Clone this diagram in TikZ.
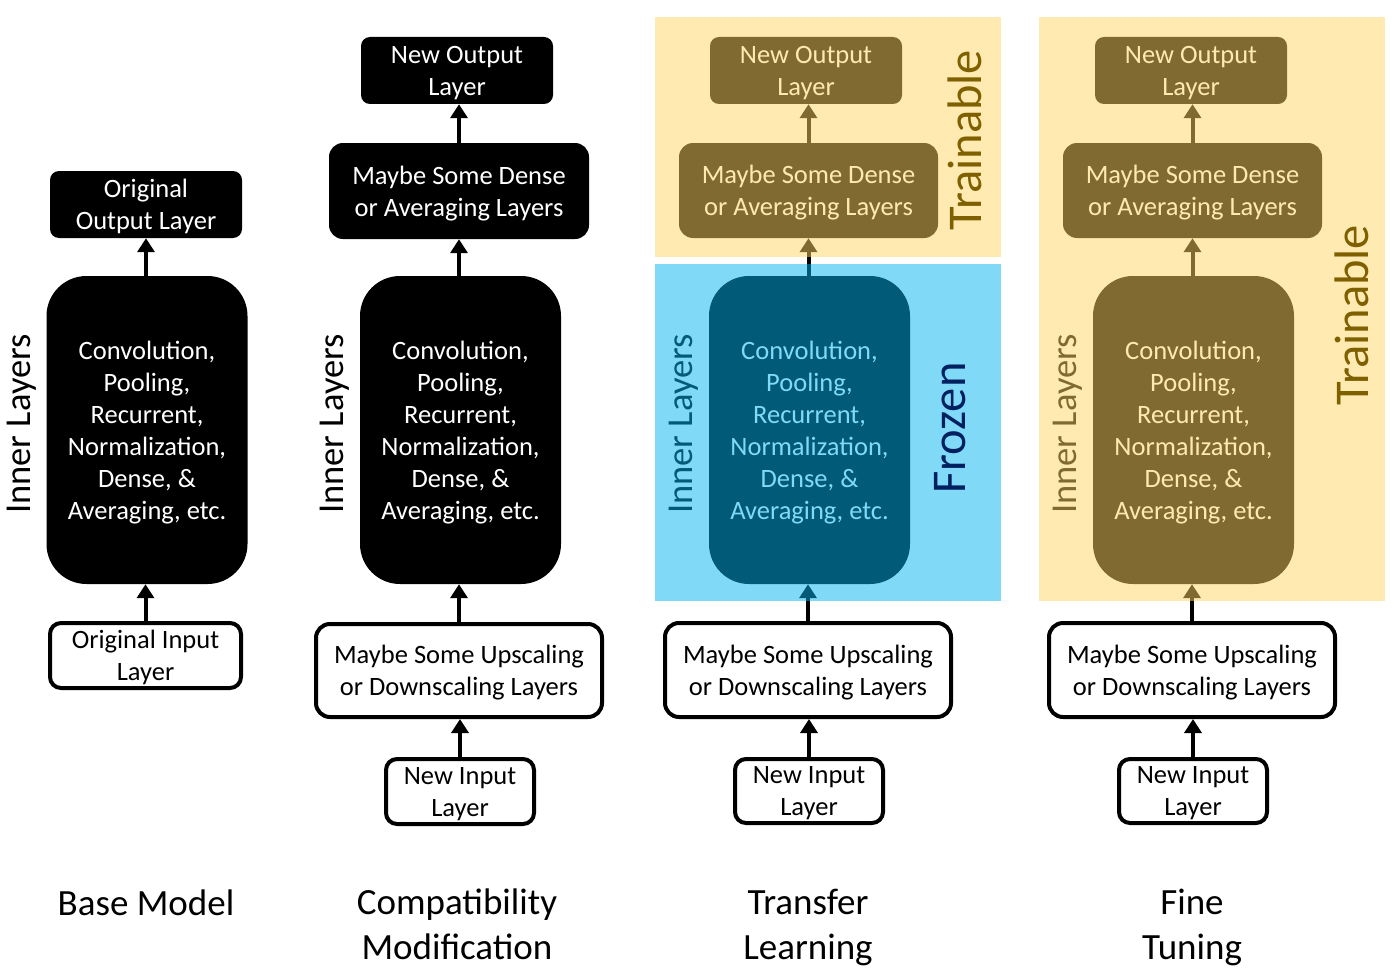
\documentclass[tikz,border=0pt]{standalone}
\usepackage{fontspec}
\setmainfont{Carlito}
\usetikzlibrary{arrows.meta}
\definecolor{ovY}{RGB}{255,213,99}
\definecolor{ovB}{RGB}{0,180,240}
\definecolor{frz}{RGB}{0,32,96}
\definecolor{trn}{RGB}{127,96,0}
\tikzset{
  lbl/.style={font=\fontsize{26.5}{32}\selectfont, align=center, inner sep=0pt, text depth=0pt},
  blk/.style={lbl, fill=black, text=white, rounded corners=9pt},
  big/.style={blk, rounded corners=40pt, minimum width=201pt, minimum height=308pt},
  wht/.style={lbl, draw=black, line width=4pt, fill=white, text=black, rounded corners=11pt},
  arr/.style={line width=4pt, -{Triangle[width=17pt,length=14pt]}},
  side/.style={font=\fontsize{36.5}{40}\selectfont, rotate=90, inner sep=0pt},
  ttl/.style={font=\fontsize{37}{45}\selectfont, align=center, inner sep=0pt, text depth=0pt},
  tag/.style={font=\fontsize{48.5}{52}\selectfont, rotate=90, inner sep=0pt},
  ovl/.style={fill opacity=0.5, draw=none}
}
\begin{document}
\begin{tikzpicture}[x=1pt,y=-1pt]
\useasboundingbox (0,0) rectangle (1394,979);
% ---------- Column 1 : Base Model
\node[blk, minimum width=192pt, minimum height=67pt] (o1) at (146,204.5) {Original\\Output Layer};
\node[big] (c1) at (147,430) {Convolution,\\Pooling,\\Recurrent,\\Normalization,\\Dense, \&\\Averaging, etc.};
\node[wht, minimum width=191pt, minimum height=65pt] (i1) at (145.5,655.5) {Original Input\\Layer};
\draw[arr] (o1.south |- c1.north) -- (o1.south);
\draw[arr] (i1.north) -- (i1.north |- c1.south);
\node[side] (s1) at (22,424) {Inner Layers};
\node[ttl] (t1) at (146,902.5) {Base Model};
% ---------- Column 2 : Compatibility Modification
\node[blk, minimum width=192pt, minimum height=67pt] (o2) at (457,70.5) {New Output\\Layer};
\node[blk, minimum width=260pt, minimum height=96pt, rounded corners=14pt] (d2) at (459,191) {Maybe Some Dense\\or Averaging Layers};
\node[big] (c2) at (460.5,430) {Convolution,\\Pooling,\\Recurrent,\\Normalization,\\Dense, \&\\Averaging, etc.};
\node[wht, minimum width=286pt, minimum height=93pt, rounded corners=14pt] (u2) at (459,670.5) {Maybe Some Upscaling\\or Downscaling Layers};
\node[wht, minimum width=148pt, minimum height=65pt] (n2) at (460,791.5) {New Input\\Layer};
\draw[arr] (d2.north) -- (d2.north |- o2.south);
\draw[arr] (d2.south |- c2.north) -- (d2.south);
\draw[arr] (u2.north) -- (u2.north |- c2.south);
\draw[arr] (n2.north) -- (n2.north |- u2.south);
\node[side] (s2) at (335,424) {Inner Layers};
\node[ttl] (t2) at (457,924) {Compatibility\\Modification};
% ---------- Column 3 : Transfer Learning
\node[blk, minimum width=192pt, minimum height=67pt] (o3) at (806,70.5) {New Output\\Layer};
\node[blk, minimum width=259pt, minimum height=95pt, rounded corners=14pt] (d3) at (808.5,190.5) {Maybe Some Dense\\or Averaging Layers};
\node[big] (c3) at (809.5,430) {Convolution,\\Pooling,\\Recurrent,\\Normalization,\\Dense, \&\\Averaging, etc.};
\node[wht, minimum width=286pt, minimum height=94pt, rounded corners=14pt] (u3) at (808,670) {Maybe Some Upscaling\\or Downscaling Layers};
\node[wht, minimum width=148pt, minimum height=64pt] (n3) at (809,791) {New Input\\Layer};
\draw[arr] (d3.north) -- (d3.north |- o3.south);
\draw[arr] (d3.south |- c3.north) -- (d3.south);
\draw[arr] (u3.north) -- (u3.north |- c3.south);
\draw[arr] (n3.north) -- (n3.north |- u3.south);
\node[side] (s3) at (684,424) {Inner Layers};
\node[ttl] (t3) at (808,924) {Transfer\\Learning};
% ---------- Column 4 : Fine Tuning
\node[blk, minimum width=192pt, minimum height=67pt] (o4) at (1191,70.5) {New Output\\Layer};
\node[blk, minimum width=259pt, minimum height=95pt, rounded corners=14pt] (d4) at (1192.5,190.5) {Maybe Some Dense\\or Averaging Layers};
\node[big] (c4) at (1193.5,430) {Convolution,\\Pooling,\\Recurrent,\\Normalization,\\Dense, \&\\Averaging, etc.};
\node[wht, minimum width=286pt, minimum height=94pt, rounded corners=14pt] (u4) at (1192,670) {Maybe Some Upscaling\\or Downscaling Layers};
\node[wht, minimum width=148pt, minimum height=64pt] (n4) at (1193,791) {New Input\\Layer};
\draw[arr] (d4.north) -- (d4.north |- o4.south);
\draw[arr] (d4.south |- c4.north) -- (d4.south);
\draw[arr] (u4.north) -- (u4.north |- c4.south);
\draw[arr] (n4.north) -- (n4.north |- u4.south);
\node[side] (s4) at (1068,424) {Inner Layers};
\node[ttl] (t4) at (1192,924) {Fine\\Tuning};
% ---------- overlays
\fill[ovl, ovY] (655,17) rectangle (1001,257);
\fill[ovl, ovB] (655,264) rectangle (1001,601);
\fill[ovl, ovY] (1039,17) rectangle (1385,601);
\node[tag, text=trn] (tr3) at (965,140) {Trainable};
\node[tag, text=frz] (fr3) at (950,428) {Frozen};
\node[tag, text=trn] (tr4) at (1352,315) {Trainable};
\end{tikzpicture}
\end{document}
